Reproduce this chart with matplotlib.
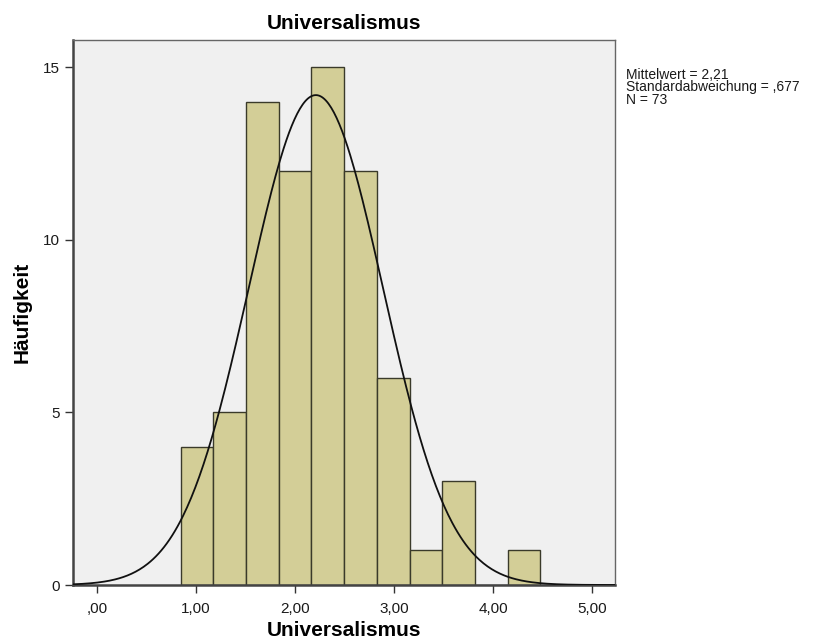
import numpy as np
import matplotlib
matplotlib.use("Agg")
import matplotlib.pyplot as plt

# Histogram data
bin_start = 0.845
bin_width = 0.33
counts = [4, 5, 14, 12, 15, 12, 6, 1, 3, 0, 1]
mean = 2.21
sd = 0.677
n = 73

x_ticks = [0, 1, 2, 3, 4, 5]
x_tick_labels = [",00", "1,00", "2,00", "3,00", "4,00", "5,00"]
y_ticks = [0, 5, 10, 15]

plt.rcParams['font.family'] = ['Liberation Sans', 'DejaVu Sans']

fig = plt.figure(figsize=(8.18, 6.43), dpi=100)
ax = fig.add_axes([0.0892, 0.0902, 0.663, 0.848])
ax.set_facecolor('#f0f0f0')

edges = bin_start + bin_width * np.arange(len(counts))
ax.bar(edges, counts, width=bin_width, align='edge',
       color='#d3ce97', edgecolor='#3a3a2a', linewidth=1.0, zorder=2)

# normal curve scaled to the histogram
xs = np.linspace(-0.24, 5.23, 400)
ys = n * bin_width / (sd * np.sqrt(2 * np.pi)) * np.exp(-0.5 * ((xs - mean) / sd) ** 2)
ax.plot(xs, ys, color='#111111', linewidth=1.3, zorder=3)

ax.set_xlim(-0.24, 5.23)
ax.set_ylim(0, 15.8)
ax.set_xticks(x_ticks)
ax.set_xticklabels(x_tick_labels)
ax.set_yticks(y_ticks)
ax.tick_params(axis='both', labelsize=11, length=6, width=1, color='#333333', labelcolor='#1a1a1a')
ax.tick_params(axis='x', pad=6)

for s in ['left', 'bottom']:
    ax.spines[s].set_color('#444444')
    ax.spines[s].set_linewidth(1.8)
for s in ['top', 'right']:
    ax.spines[s].set_color('#666666')
    ax.spines[s].set_linewidth(1.0)

ax.set_title('Universalismus', fontsize=15, fontweight='bold', pad=8)
ax.set_xlabel('Universalismus', fontsize=15, fontweight='bold', va='center')
ax.set_ylabel('Häufigkeit', fontsize=15, fontweight='bold', va='center')
ax.xaxis.set_label_coords(0.5, -0.083)
ax.yaxis.set_label_coords(-0.094, 0.5)

fig.text(0.765, 0.895, 'Mittelwert = 2,21\nStandardabweichung = ,677\nN = 73',
         fontsize=10, va='top', ha='left', linespacing=0.9, color='#1a1a1a')

fig.savefig('out.png', dpi=100)
